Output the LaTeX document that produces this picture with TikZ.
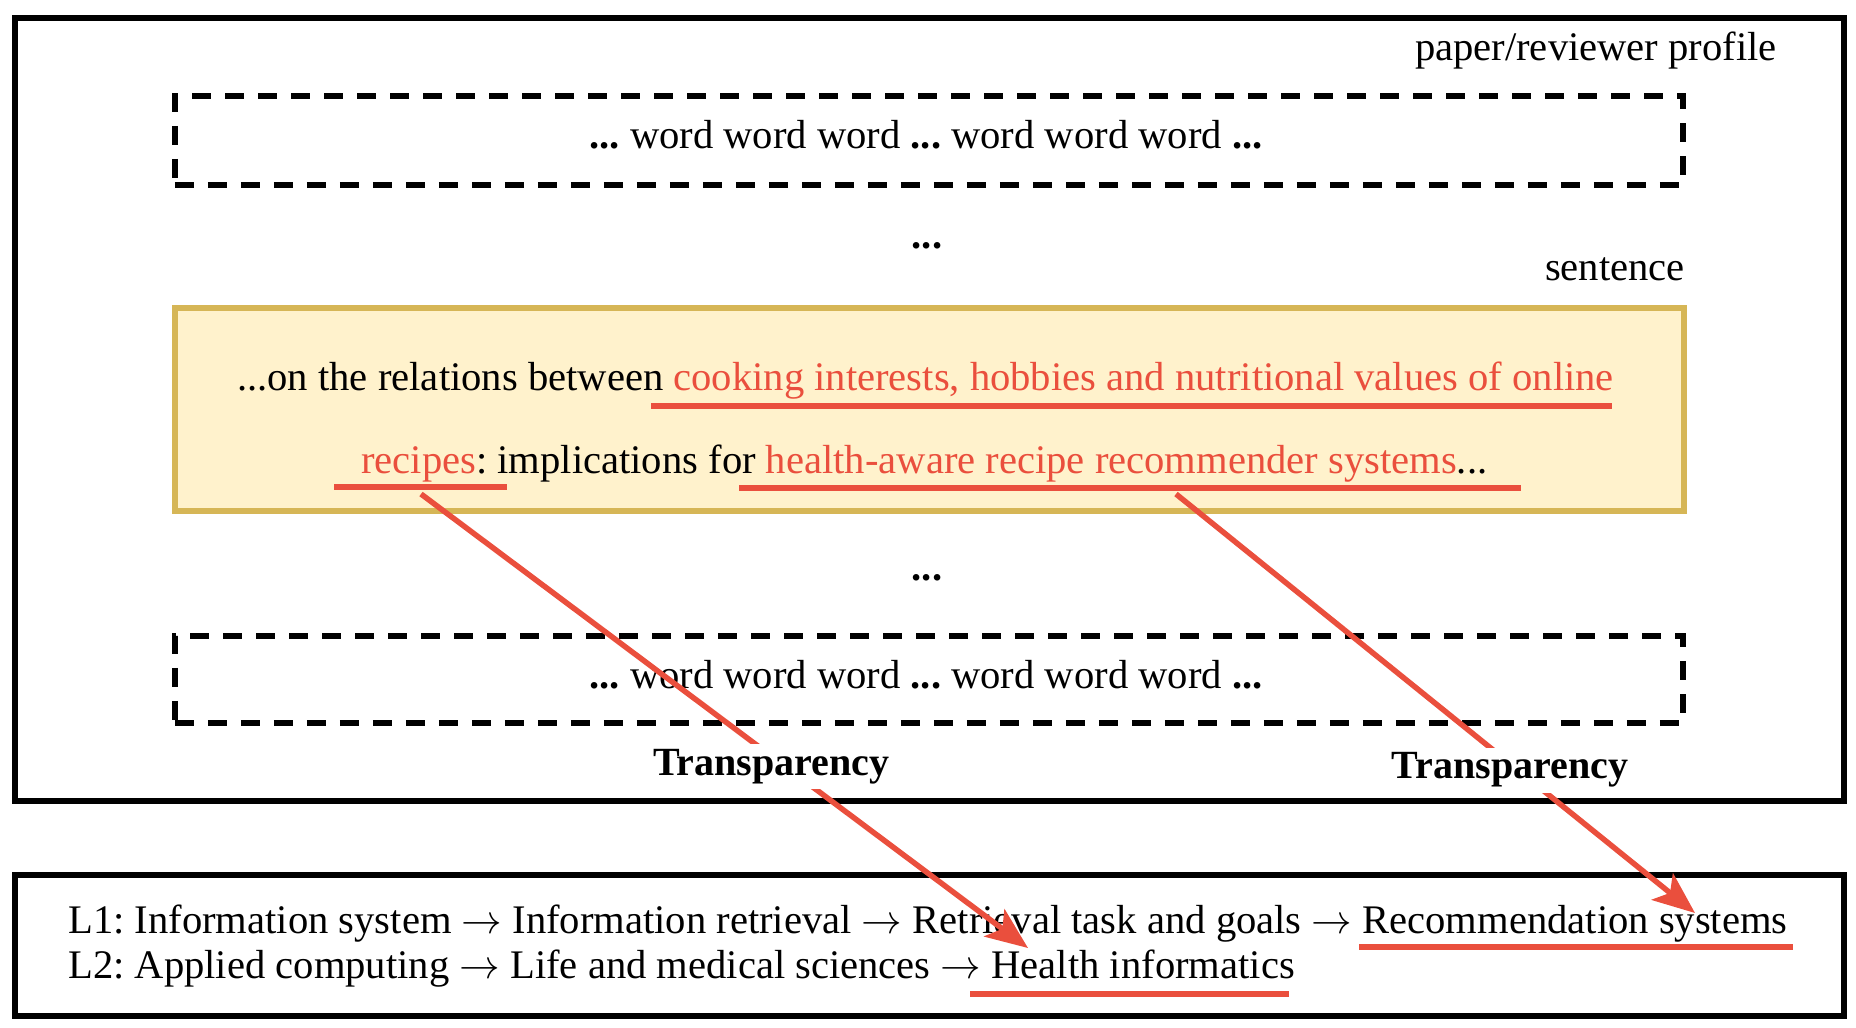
\documentclass[tikz,border=0pt]{standalone}
\usepackage{fix-cm}
\usepackage{fontspec}
\setmainfont{Liberation Serif}
\usetikzlibrary{arrows.meta}
\definecolor{redline}{RGB}{234,79,61}
\definecolor{sentfill}{RGB}{255,242,204}
\definecolor{sentdraw}{RGB}{214,182,86}
\newcommand{\ra}{\ensuremath{\rightarrow}}
\frenchspacing
\begin{document}
\begin{tikzpicture}[x=1pt,y=-1pt,
  txt/.style={inner sep=0pt, font=\fontsize{40.6}{48}\selectfont},
  frame/.style={draw=black, line width=6pt, inner sep=0pt, anchor=north west},
  dbox/.style={draw=black, line width=5.5pt, dash pattern=on 19pt off 14pt, inner sep=0pt, anchor=north west},
  sbox/.style={draw=sentdraw, fill=sentfill, line width=5.5pt, inner sep=0pt, anchor=north west},
  uline/.style={draw=redline, line width=5.5pt},
  link/.style={draw=redline, line width=5.5pt, -{Stealth[length=42pt,width=34pt,inset=10pt]}},
  tlabel/.style={fill=white, inner sep=5pt, font=\fontsize{40}{48}\selectfont\bfseries}]
\useasboundingbox (0,0) rectangle (1856,1028);
% boxes
\node[frame, minimum width=1829pt, minimum height=783pt] (outer) at (12,15) {};
\node[frame, minimum width=1829pt, minimum height=141pt] (acm) at (12,872) {};
\node[dbox, minimum width=1508pt, minimum height=89pt] (dtop) at (172,93) {};
\node[dbox, minimum width=1508pt, minimum height=87pt] (dbot) at (172,633) {};
\node[sbox, minimum width=1509pt, minimum height=203pt] (sent) at (172,305) {};
% texts
\node[txt, anchor=base east] (prof) at (1777,60) {paper/reviewer profile};
\node[txt, anchor=base east] (sentlbl) at (1685,280) {sentence};
\node[txt, anchor=base] (w1) at (926,148) {\textbf{...} word word word \textbf{...} word word word \textbf{...}};
\node[txt, anchor=base] (dots1) at (927,248) {\textbf{...}};
\node[txt, anchor=base west] (s1) at (237,390) {...on the relations between \textcolor{redline}{cooking interests, hobbies and nutritional values of online}};
\node[txt, anchor=base west] (s2) at (361,473) {\textcolor{redline}{recipes}: implications for \textcolor{redline}{health-aware recipe recommender systems}...};
\node[txt, anchor=base] (dots2) at (927,580) {\textbf{...}};
\node[txt, anchor=base] (w2) at (926,688) {\textbf{...} word word word \textbf{...} word word word \textbf{...}};
\node[txt, anchor=base west, align=left, font=\fontsize{40.6}{45}\selectfont] (cls) at (68,978) {L1: Information system \ra{} Information retrieval \ra{} Retrieval task and goals \ra{} Recommendation systems\\L2: Applied computing \ra{} Life and medical sciences \ra{} Health informatics};
% underlines
\draw[uline] (651,406) -- (1612,406);
\draw[uline] (334,487) -- (507,487);
\draw[uline] (739,488) -- (1521,488);
\draw[uline] (1359,947) -- (1793,947);
\draw[uline] (970,994) -- (1289,994);
% arrows
\coordinate (a1s) at (421,494);
\coordinate (a1e) at (1028,948);
\coordinate (a2s) at (1176,494);
\coordinate (a2e) at (1695,913);
\draw[link] (a1s) -- node[tlabel, pos=0.6, xshift=-14pt] (t1) {Transparency} (a1e);
\draw[link] (a2s) -- node[tlabel, pos=0.659, xshift=-8pt] (t2) {Transparency} (a2e);
\end{tikzpicture}
\end{document}
